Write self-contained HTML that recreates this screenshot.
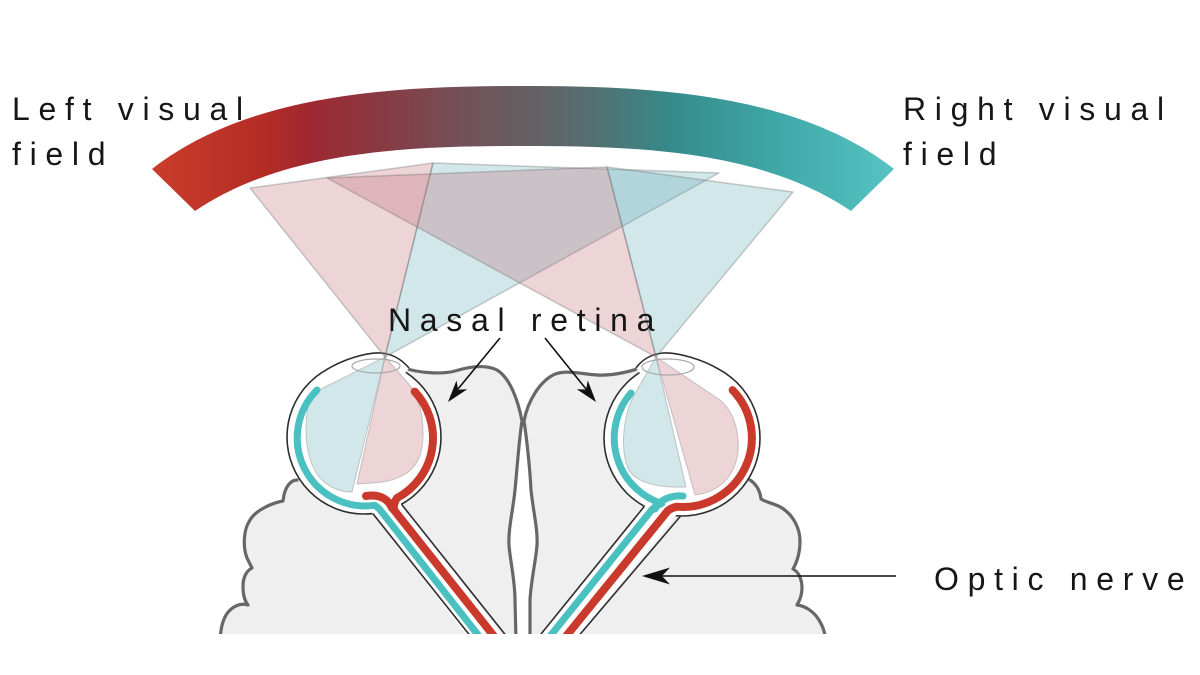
<!DOCTYPE html>
<html>
<head>
<meta charset="utf-8">
<style>
html,body{margin:0;padding:0;background:#fff;}
body{width:1200px;height:675px;overflow:hidden;}
svg{display:block;}
text{font-family:"Liberation Sans",Arial,sans-serif;font-size:32px;letter-spacing:8.7px;fill:#161616;}
</style>
</head>
<body>
<svg width="1200" height="675" viewBox="0 0 1200 675" xmlns="http://www.w3.org/2000/svg">
  <defs>
    <linearGradient id="band" x1="150" y1="0" x2="895" y2="0" gradientUnits="userSpaceOnUse">
      <stop offset="0" stop-color="#c93d2a"/>
      <stop offset="0.154" stop-color="#b42c25"/>
      <stop offset="0.215" stop-color="#9e2832"/>
      <stop offset="0.309" stop-color="#883a42"/>
      <stop offset="0.416" stop-color="#745058"/>
      <stop offset="0.5" stop-color="#665e62"/>
      <stop offset="0.59" stop-color="#566e70"/>
      <stop offset="0.698" stop-color="#368a8a"/>
      <stop offset="0.846" stop-color="#40a8a8"/>
      <stop offset="1" stop-color="#56c3c3"/>
    </linearGradient>
    <clipPath id="cut"><rect x="0" y="0" width="1200" height="634"/></clipPath>
  </defs>

  <!-- visual field band -->
  <path d="M152,169 C250,92 400,86 523,86 C646,86 796,92 894,169 L851,211 C761,150 636,146 523,146 C410,146 285,150 195,211 Z" fill="url(#band)"/>

  <g clip-path="url(#cut)">
    <!-- brain fill -->
    <path d="M297,480 C290,481 285,488 283,497 L282,502 C272,503 256,510 250,520 C243,530 243,548 247,558 L252,568 C246,571 243,578 243,586 C243,594 244,600 248,605 C238,602 229,609 225,617 C222,623 221,628 220,640 L826,640 C824,629 822,625 819,620 C814,612 806,606 797,605 C800,600 802,595 802,588 C802,580 799,572 793,569 C797,562 800,553 800,541 C800,528 793,515 782,508 C776,504 768,503 761,499 C760,490 756,484 750,480 L700,420 L650,366 C635,370 615,376 597,375 C580,374 565,369 553,375 C540,382 528,400 524,421 L522,421 C518,400 510,378 497,370 C485,364 468,367 455,371 C440,375 410,372 400,367 L330,430 Z" fill="#efefef"/>
    <!-- fissure white gap -->
    <path d="M522,421 C519,440 517,470 515,490 C513,510 508,530 509,545 C510,560 515,580 515,600 L516,640 L530,640 L530,600 C531,580 536,560 537,545 C538,530 533,510 531,490 C530,470 527,440 524,421 Z" fill="#ffffff"/>
    <!-- brain strokes -->
    <g fill="none" stroke="#676767" stroke-width="3.2" stroke-linecap="round" stroke-linejoin="round">
      <path d="M297,480 C291,480 286,486 284,495 L283,501 C272,503 256,510 250,520 C243,530 243,548 247,558 L252,568 C246,571 243,578 243,586 C243,594 244,600 248,605 C238,602 229,609 225,617 C222,623 221,628 220,640"/>
      <path d="M750,480 C756,484 760,490 761,499 C768,503 776,504 782,508 C793,515 800,528 800,541 C800,553 797,562 793,569 C799,572 802,580 802,588 C802,595 800,600 797,605 C806,606 814,612 819,620 C822,625 824,629 826,640"/>
      <path d="M406,368 C414,372 440,375 455,371 C468,367 485,364 497,370 C510,378 518,400 522,421 C519,440 517,470 515,490 C513,510 508,530 509,545 C510,560 515,580 515,600 L516,640"/>
      <path d="M639,368 C635,370 615,376 597,375 C580,374 565,369 553,375 C540,382 528,400 524,421 C527,440 530,470 531,490 C533,510 538,530 537,545 C536,560 531,580 530,600 L530,640"/>
    </g>

    <!-- eyes -->
    <circle cx="364" cy="437" r="77" fill="#fff" stroke="#2e2e2e" stroke-width="1.6"/>
    <circle cx="682" cy="438" r="78" fill="#fff" stroke="#2e2e2e" stroke-width="1.6"/>
    <!-- cornea bulges -->
    <path d="M326,370 C342,360 366,352 381,353 C394,354 403,361 409,368 L400,380 L340,380 Z" fill="#fff"/>
    <path d="M326,370 C342,360 366,352 381,353 C394,354 403,361 409,368" fill="none" stroke="#2e2e2e" stroke-width="1.6"/>
    <path d="M720,370 C704,360 678,352 663,353 C650,354 641,361 636,368 L645,380 L705,380 Z" fill="#fff"/>
    <path d="M720,370 C704,360 678,352 663,353 C650,354 641,361 636,368" fill="none" stroke="#2e2e2e" stroke-width="1.6"/>

    <!-- nerves -->
    <polygon points="362,500 398,500 506,640 470,640" fill="#fff"/>
    <polygon points="649.5,500 688.5,500 575,640 536,640" fill="#fff"/>
    <g stroke="#2e2e2e" stroke-width="1.6" fill="none">
      <line x1="372.8" y1="513.5" x2="473.5" y2="640"/>
      <line x1="401.5" y1="504.3" x2="509.5" y2="640"/>
      <line x1="644.4" y1="506.3" x2="536.2" y2="640"/>
      <line x1="680.6" y1="516" x2="575.2" y2="640"/>
    </g>

    <!-- in-eye projections -->
    <g stroke="rgba(140,140,140,0.45)" stroke-width="1">
      <path d="M385,357 L408,383 C422,400 426,430 421,452 C416,472 398,482 372,483 L357,484 Z" fill="rgba(185,100,112,0.28)"/>
      <path d="M385,357 L311,394 C302,425 305,460 320,478 C330,488 340,492 352,492 Z" fill="rgba(95,170,180,0.28)"/>
      <path d="M656,357 L720,400 C738,415 742,445 735,465 C727,485 712,493 695,495 Z" fill="rgba(185,100,112,0.28)"/>
      <path d="M656,357 L633,397 C622,420 620,455 630,472 C640,484 660,488 686,487 Z" fill="rgba(95,170,180,0.28)"/>
    </g>

    <!-- retina + nerve stripes -->
    <g fill="none" stroke-linecap="round" stroke-linejoin="round">
      <path d="M317,390 A68,68 0 0 0 374.5,505.3 Q378,507 381,511 L482,640" stroke="#4bc0c0" stroke-width="7"/>
      <path d="M414.7,391.6 A68,68 0 0 1 397,498 Q393,504 394,510 L497,640" stroke="#c93a2c" stroke-width="8"/>
      <path d="M366,496 C378,494 388,498 392,508" stroke="#c93a2c" stroke-width="8"/>
      <path d="M631,393 A69,69 0 0 0 661.7,503.6 Q655,506 651.6,510 L547,640" stroke="#4bc0c0" stroke-width="7"/>
      <path d="M732.6,390.1 A69,69 0 0 1 677,506.7 Q671,508 667.6,511 L563,640" stroke="#c93a2c" stroke-width="8"/>
      <path d="M683,496 C672,495 660,499 655,509" stroke="#4bc0c0" stroke-width="7"/>
    </g>
  </g>

  <!-- cornea -->
  <ellipse cx="376" cy="366" rx="24" ry="7" fill="none" stroke="#a8a8a8" stroke-width="1.2"/>
  <ellipse cx="668" cy="367" rx="26" ry="8" fill="none" stroke="#a8a8a8" stroke-width="1.2"/>

  <!-- visual field triangles -->
  <g stroke="rgba(110,110,110,0.35)" stroke-width="1.5" stroke-linejoin="round">
    <polygon points="250,188 433,163 385,357" fill="rgba(185,100,112,0.28)"/>
    <polygon points="433,163 719,173 385,357" fill="rgba(95,170,180,0.28)"/>
    <polygon points="327,178 607,167 656,357" fill="rgba(185,100,112,0.28)"/>
    <polygon points="607,167 793,192 656,357" fill="rgba(95,170,180,0.28)"/>
  </g>

  <!-- labels -->
  <text x="12" y="120">Left visual</text>
  <text x="12" y="165">field</text>
  <text x="903" y="120">Right visual</text>
  <text x="903" y="165">field</text>
  <text x="388" y="331">Nasal retina</text>
  <text x="934" y="590">Optic nerve</text>

  <!-- arrows -->
  <g stroke="#111" stroke-width="1.6" fill="none">
    <line x1="500" y1="338" x2="458" y2="389"/>
    <line x1="545" y1="338" x2="586" y2="389"/>
    <line x1="896" y1="576" x2="660" y2="576"/>
  </g>
  <g fill="#111">
    <polygon points="448,402 467.3,389.3 458.1,389.6 456.5,380.5"/>
    <polygon points="596,402 587.8,380.4 586,389.5 576.8,389.2"/>
    <polygon points="642,576 670,567.5 662,576 670,584.5"/>
  </g>
</svg>
</body>
</html>
